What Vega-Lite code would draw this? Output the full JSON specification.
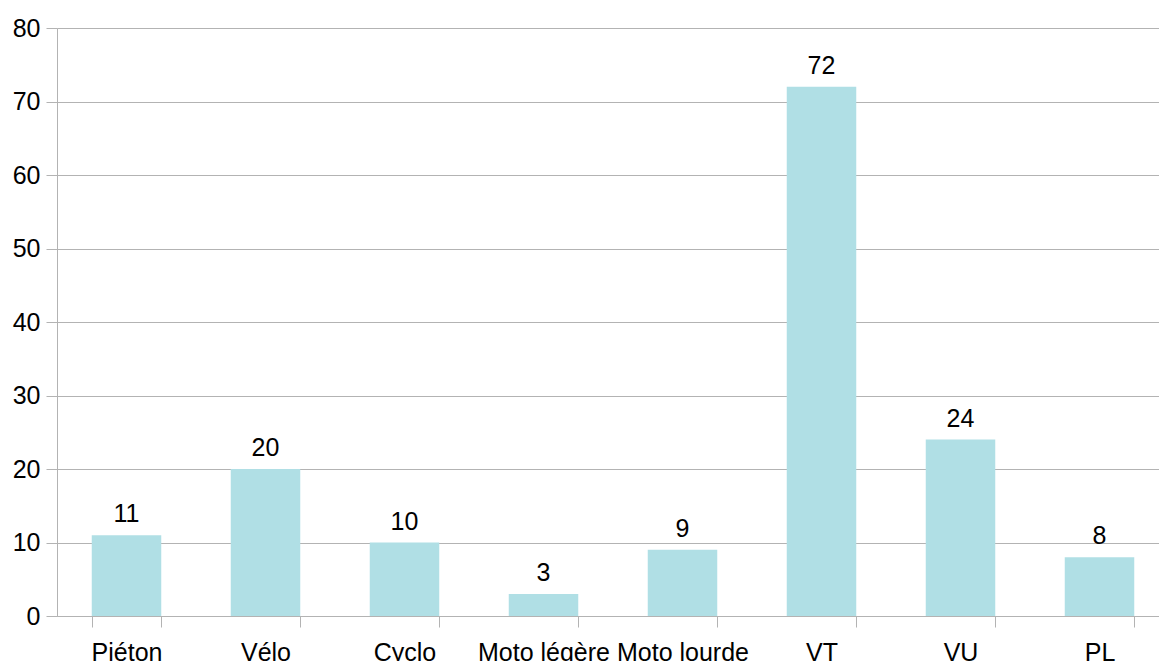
{
  "$schema": "https://vega.github.io/schema/vega-lite/v6.json",
  "autosize": "none",
  "width": 1102,
  "height": 588,
  "padding": {"left": 57, "top": 28, "right": 0, "bottom": 45},
  "background": "white",
  "config": {"view": {"stroke": null}, "font": "Liberation Sans"},
  "data": {"values": [
    {"cat": "Piéton", "v": 11},
    {"cat": "Vélo", "v": 20},
    {"cat": "Cyclo", "v": 10},
    {"cat": "Moto légère", "v": 3},
    {"cat": "Moto lourde", "v": 9},
    {"cat": "VT", "v": 72},
    {"cat": "VU", "v": 24},
    {"cat": "PL", "v": 8}
  ]},
  "encoding": {
    "x": {"field": "cat", "type": "nominal", "sort": null,
      "scale": {"range": [0, 1112], "paddingInner": 0.5, "paddingOuter": 0.25},
      "axis": {"title": null, "labelAngle": 0, "labelFontSize": 25, "labelColor": "#000000",
        "labelPadding": 13, "tickBand": "extent", "tickSize": 11, "tickColor": "#b3b3b3",
        "domainColor": "#b3b3b3", "grid": false, "labelOverlap": false}},
    "y": {"field": "v", "type": "quantitative",
      "scale": {"domain": [0, 80], "nice": false},
      "axis": {"title": null, "values": [0,10,20,30,40,50,60,70,80], "labelFontSize": 25,
        "labelColor": "#000000", "labelPadding": 6, "tickSize": 11, "tickColor": "#b3b3b3",
        "domainColor": "#b3b3b3", "gridColor": "#b3b3b3", "grid": true}}
  },
  "layer": [
    {"mark": {"type": "bar", "color": "#b0dfe5"}},
    {"mark": {"type": "text", "dy": -13, "fontSize": 25, "color": "#000000", "baseline": "alphabetic"},
     "encoding": {"text": {"field": "v", "type": "quantitative"}}}
  ]
}
